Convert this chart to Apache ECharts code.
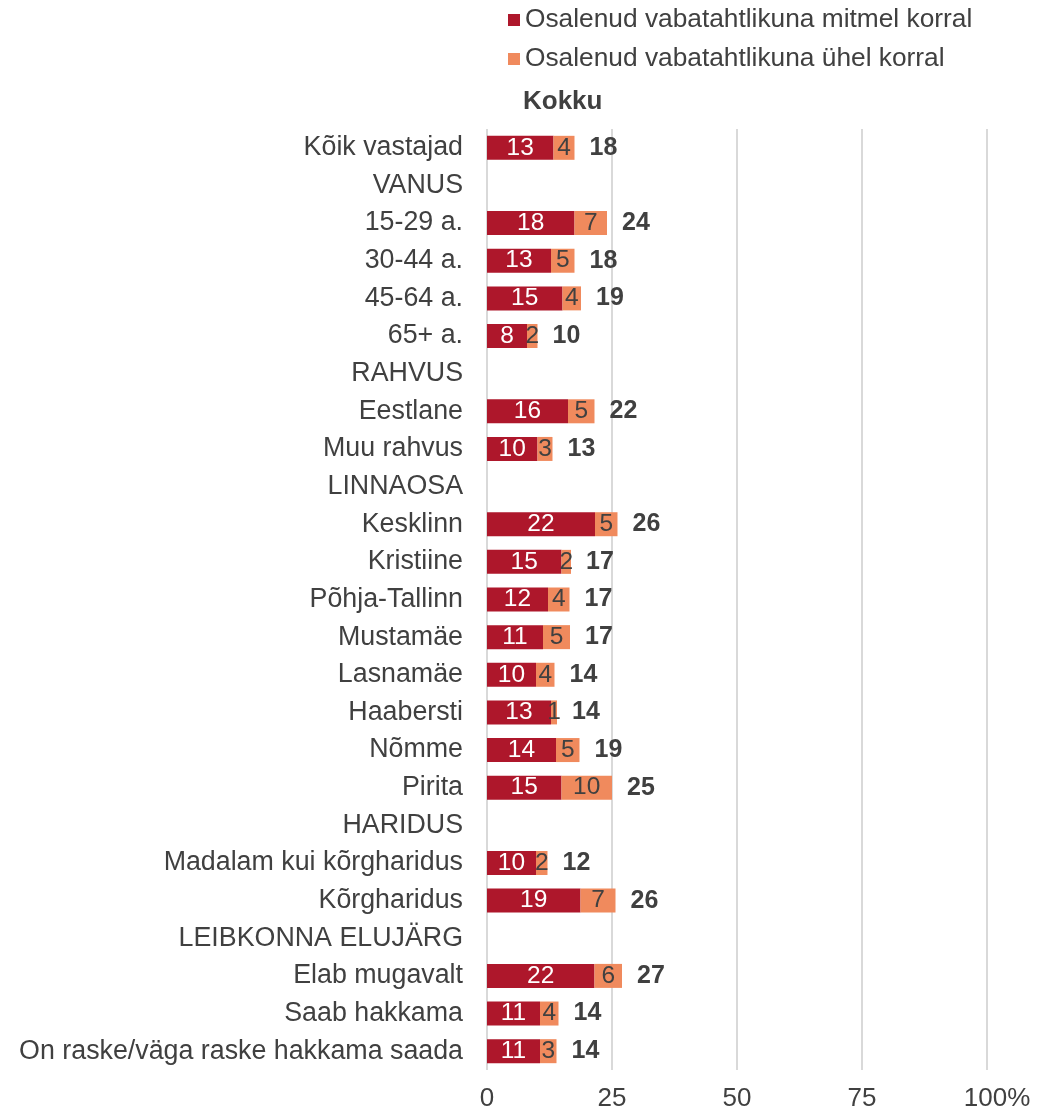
<!DOCTYPE html>
<html>
<head>
<meta charset="utf-8">
<script src="https://cdn.jsdelivr.net/npm/echarts@6/dist/echarts.min.js"></script>
<style>
html,body{margin:0;padding:0;background:#fff;}
#chart{width:1048px;height:1113px;}
</style>
</head>
<body>
<div id="chart"></div>
<script>
var categories = [
  "Kõik vastajad","VANUS","15-29 a.","30-44 a.","45-64 a.","65+ a.",
  "RAHVUS","Eestlane","Muu rahvus",
  "LINNAOSA","Kesklinn","Kristiine","Põhja-Tallinn","Mustamäe","Lasnamäe","Haabersti","Nõmme","Pirita",
  "HARIDUS","Madalam kui kõrgharidus","Kõrgharidus",
  "LEIBKONNA ELUJÄRG","Elab mugavalt","Saab hakkama","On raske/väga raske hakkama saada"
];
var seriesNames = ["Osalenud vabatahtlikuna mitmel korral","Osalenud vabatahtlikuna ühel korral","Kokku"];
var mitmel = [13.3,null,17.5,12.8,15.1,8.0,null,16.2,10.1,null,21.6,14.9,12.2,11.2,9.8,12.8,13.8,14.9,null,9.8,18.7,null,21.5,10.6,10.6];
var uhel   = [4.2,null,6.5,4.7,3.7,2.1,null,5.3,3.0,null,4.5,1.9,4.3,5.4,3.7,1.2,4.7,10.1,null,2.3,7.0,null,5.5,3.7,3.3];
var kokku  = [18,null,24,18,19,10,null,22,13,null,26,17,17,17,14,14,19,25,null,12,26,null,27,14,14];
var xTicks = ["0","25","50","75","100%"];

var FONT = "Liberation Sans, Arial, sans-serif";
var TXT = "#404040";
var chart = echarts.init(document.getElementById('chart'));
chart.setOption({
  animation:false,
  textStyle:{fontFamily:FONT},
  legend:[{
    orient:'vertical', left:503, top:2, itemWidth:12, itemHeight:12, itemGap:13,
    textStyle:{fontSize:26.3, color:TXT, fontFamily:FONT},
    data:[
      {name:seriesNames[0], icon:'rect'},
      {name:seriesNames[1], icon:'rect'}
    ],
    selectedMode:false
  },{
    orient:'vertical', left:503, top:84, itemWidth:10, itemHeight:12,
    textStyle:{fontSize:26, color:TXT, fontFamily:FONT, fontWeight:'bold'},
    data:[{name:seriesNames[2], icon:'none'}],
    selectedMode:false
  }],
  grid:{left:487, right:61, top:129, bottom:43, containLabel:false},
  xAxis:{
    type:'value', min:0, max:100, interval:25,
    axisLine:{show:false}, axisTick:{show:false},
    splitLine:{show:true, lineStyle:{color:'#d9d9d9', width:2}},
    axisLabel:{fontSize:26, color:TXT, margin:16, fontFamily:FONT,
      formatter:function(v){ var i=Math.round(v/25); return i===4 ? '{p|' + xTicks[i] + '}' : xTicks[i]; },
      rich:{p:{fontSize:26, color:TXT, fontFamily:FONT, padding:[0,0,0,20]}}}
  },
  yAxis:{
    type:'category', data:categories, inverse:true,
    axisLine:{show:false}, axisTick:{show:false}, splitLine:{show:false},
    axisLabel:{fontSize:26.8, color:TXT, margin:24, fontFamily:FONT}
  },
  series:[
    {name:seriesNames[0], type:'bar', stack:'a', data:mitmel, barWidth:24,
     itemStyle:{color:'#AE172B'},
     label:{show:true, position:'inside', color:'#fff', fontSize:24.5, fontFamily:FONT,
       formatter:function(p){ return p.value==null?'':Math.round(p.value); }}},
    {name:seriesNames[1], type:'bar', stack:'a', data:uhel, barWidth:24,
     itemStyle:{color:'#F08A5D'},
     label:{show:true, position:'inside', color:TXT, fontSize:24.5, fontFamily:FONT,
       formatter:function(p){ return p.value==null?'':Math.round(p.value); }}},
    {name:seriesNames[2], type:'bar', stack:'a', barWidth:24,
     data:kokku.map(function(v){ return v==null?null:0; }),
     itemStyle:{color:'rgba(0,0,0,0)'},
     label:{show:true, position:'right', distance:15, color:TXT, fontSize:25, fontWeight:'bold', fontFamily:FONT,
       formatter:function(p){ var t=kokku[p.dataIndex]; return t==null?'':String(t); }}}
  ]
});
</script>
</body>
</html>
